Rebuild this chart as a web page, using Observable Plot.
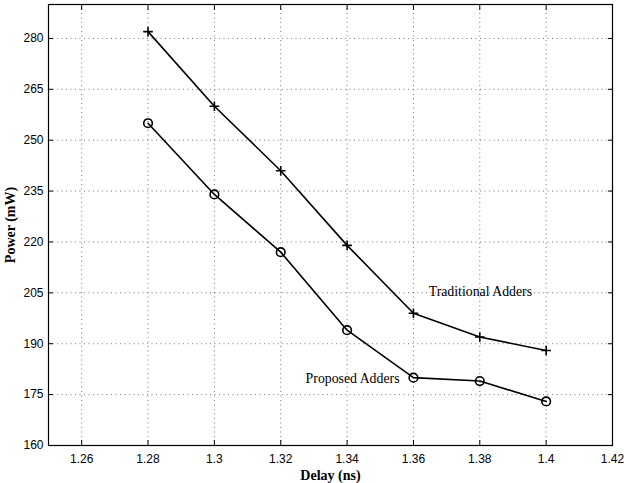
<!DOCTYPE html>
<html>
<head>
<meta charset="utf-8">
<script src="https://cdn.jsdelivr.net/npm/d3@7"></script>
<script src="https://cdn.jsdelivr.net/npm/@observablehq/plot@0.6"></script>
<style>
  html, body { margin: 0; padding: 0; background: #fff; }
  svg { display: block; }
</style>
</head>
<body>
<div id="chart"></div>
<script>
const delays = [1.28, 1.30, 1.32, 1.34, 1.36, 1.38, 1.40];
const traditionalPower = [282, 260, 241, 219, 199, 192, 188];
const proposedPower = [255, 234, 217, 194, 180, 179, 173];
const xTicks = [1.26, 1.28, 1.30, 1.32, 1.34, 1.36, 1.38, 1.40, 1.42];
const yTicks = [160, 175, 190, 205, 220, 235, 250, 265, 280];
const annotations = [
  {text: "Traditional Adders", x: 1.3646, y: 205.4},
  {text: "Proposed Adders", x: 1.3275, y: 179.7}
];

const trad = delays.map((d, i) => ({delay: d, power: traditionalPower[i]}));
const prop = delays.map((d, i) => ({delay: d, power: proposedPower[i]}));
const fmt = d => String(+d.toFixed(2));

const chart = Plot.plot({
  width: 624,
  height: 483,
  marginLeft: 48,
  marginRight: 12,
  marginTop: 4,
  marginBottom: 38,
  style: {fontFamily: "'Liberation Sans', Arial, sans-serif", fontSize: "12px", color: "#000", background: "#fff"},
  x: {domain: [1.25, 1.42]},
  y: {domain: [160, 290]},
  marks: [
    Plot.gridX(xTicks, {stroke: "#000", strokeOpacity: 0.55, strokeDasharray: "1,3.5"}),
    Plot.gridY(yTicks, {stroke: "#000", strokeOpacity: 0.55, strokeDasharray: "1,3.5"}),
    Plot.axisX({anchor: "bottom", ticks: xTicks, tickSize: 0, tickPadding: 9, tickFormat: fmt,
      label: "Delay (ns)", labelAnchor: "center", labelOffset: 34, labelArrow: "none"}),
    Plot.axisX({anchor: "bottom", ticks: xTicks, tickSize: -5, tickFormat: () => "", label: null}),
    Plot.axisX({anchor: "top", ticks: xTicks, tickSize: -5, tickFormat: () => "", label: null}),
    Plot.axisY({anchor: "left", ticks: yTicks, tickSize: 0, tickPadding: 5, tickFormat: fmt,
      label: "Power (mW)", labelAnchor: "center", labelOffset: 43, labelArrow: "none"}),
    Plot.axisY({anchor: "left", ticks: yTicks, tickSize: -5, tickFormat: () => "", label: null}),
    Plot.axisY({anchor: "right", ticks: yTicks, tickSize: -5, tickFormat: () => "", label: null}),
    Plot.frame({stroke: "#000", strokeWidth: 1.2}),
    Plot.line(trad, {x: "delay", y: "power", stroke: "#000", strokeWidth: 1.6}),
    Plot.line(prop, {x: "delay", y: "power", stroke: "#000", strokeWidth: 1.6}),
    Plot.dot(trad, {x: "delay", y: "power", symbol: "plus", r: 3.2, stroke: "#000", strokeWidth: 1.6}),
    Plot.dot(prop, {x: "delay", y: "power", symbol: "circle", r: 4.3, stroke: "#000", fill: "none", strokeWidth: 1.6}),
    Plot.text(annotations, {x: "x", y: "y", text: "text", textAnchor: "start",
      fontFamily: "'Liberation Serif', 'Times New Roman', serif", fontSize: 13.8})
  ]
});

// Bold serif axis labels
chart.querySelectorAll("[aria-label='x-axis label'] text, [aria-label='y-axis label'] text").forEach(t => {
  t.setAttribute("font-family", "'Liberation Serif', 'Times New Roman', serif");
  t.setAttribute("font-weight", "bold");
  t.setAttribute("font-size", "14");
});
document.getElementById("chart").appendChild(chart);
</script>
</body>
</html>
